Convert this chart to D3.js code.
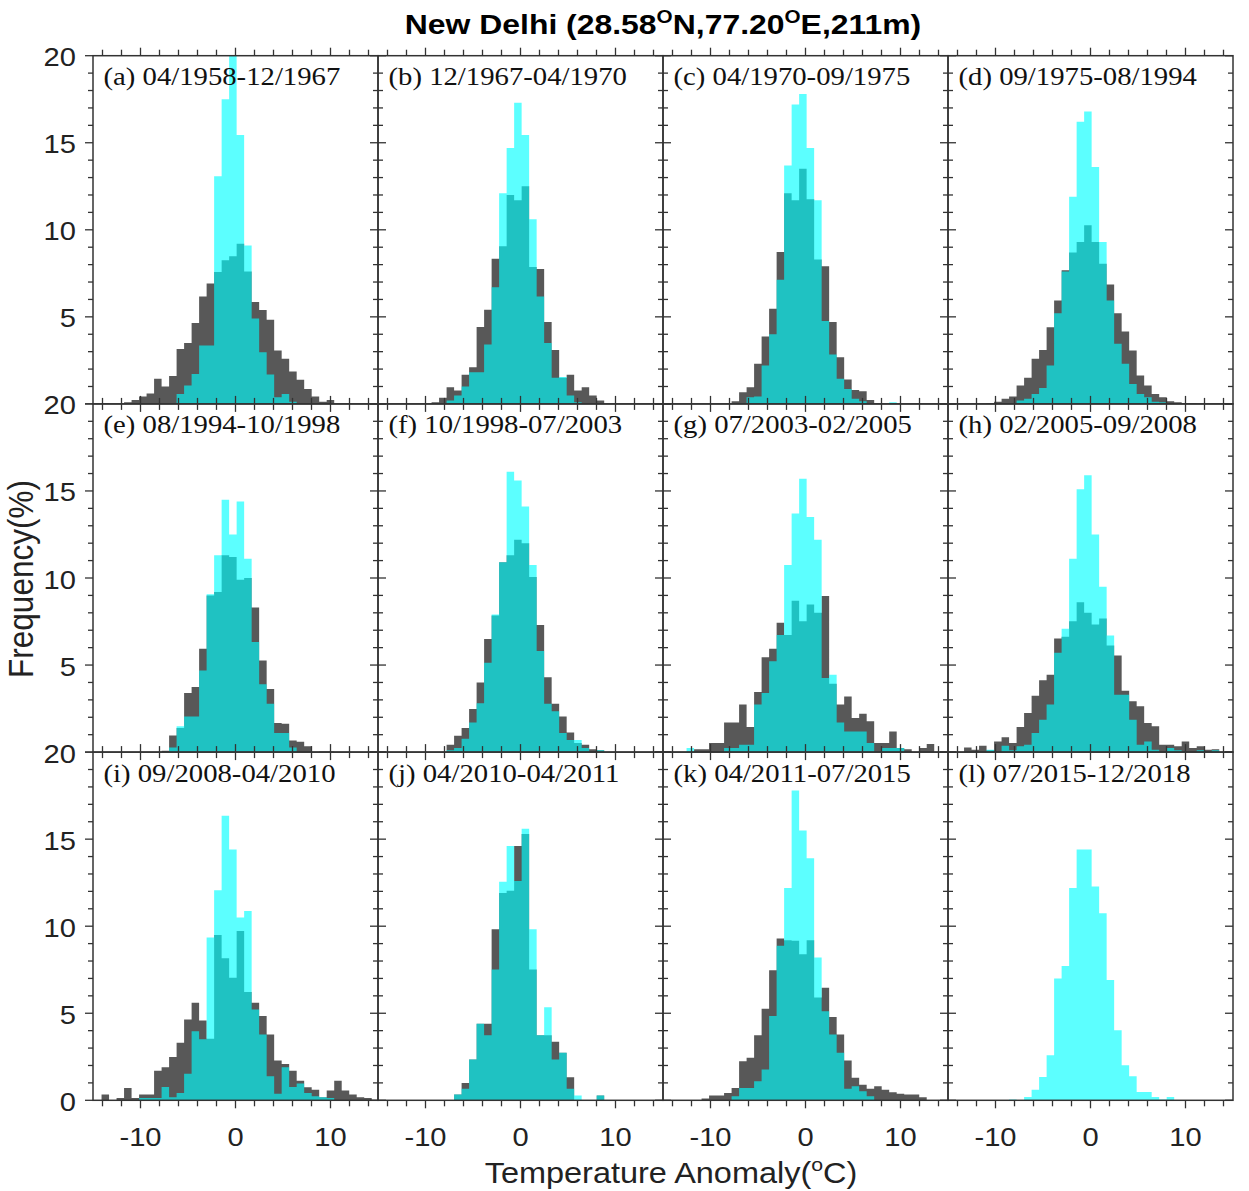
<!DOCTYPE html>
<html><head><meta charset="utf-8">
<script src="https://cdn.jsdelivr.net/npm/d3@7/dist/d3.min.js"></script>
<style>body{margin:0;background:#fff}</style>
</head><body>
<svg id="chart" width="1249" height="1191"></svg>
<script>
// ---------------- DATA ----------------
const titleText = ["New Delhi (28.58", "O", "N,77.20", "O", "E,211m)"];
const xLabelParts = ["Temperature Anomaly(", "o", "C)"];
const yLabelText = "Frequency(%)";
const panelLabels = [
  "(a) 04/1958-12/1967", "(b) 12/1967-04/1970", "(c) 04/1970-09/1975", "(d) 09/1975-08/1994",
  "(e) 08/1994-10/1998", "(f) 10/1998-07/2003", "(g) 07/2003-02/2005", "(h) 02/2005-09/2008",
  "(i) 09/2008-04/2010", "(j) 04/2010-04/2011", "(k) 04/2011-07/2015", "(l) 07/2015-12/2018"
];
// histogram bins shared by all panels (left edge of first bin, bin width, in °C)
const binStart = -14.1;
const binWidth = 0.79;
const xDomain = [-15, 15];
const yDomain = [0, 20];
const xTickLabels = [-10, 0, 10];
const xTicks = [-14, -12, -10, -8, -6, -4, -2, 0, 2, 4, 6, 8, 10, 12, 14];
const yTickLabels = [0, 5, 10, 15, 20];

// frequency (%) per bin: gray = dark series, cyan = light series
const grayA = [0.05,0,0,0.1,0.23,0.42,0.6,1.44,1.0,1.6,3.16,3.5,4.64,6.17,6.92,7.57,8.25,8.48,9.2,7.6,5.85,5.4,4.83,3.07,2.6,1.86,1.38,0.86,0.42,0.13,0.23];
const cyanA = [0,0,0,0,0,0,0,0,0,0,0.57,1.05,1.72,3.35,3.35,13.08,17.5,21.5,15.44,9.1,4.9,2.97,1.69,0.38,0.57,0.13];
const grayB = [0,0,0,0,0,0,0.1,0.35,0.96,0.77,1.67,2.1,4.41,5.41,8.34,9.05,12.0,11.7,12.5,7.86,7.75,4.7,3.1,1.5,1.67,0.77,0.96,0.48,0.19];
const cyanB = [0,0,0,0,0,0,0,0,0.19,0.48,1.0,1.82,1.82,3.41,6.7,12.1,14.7,17.3,15.44,10.6,6.17,3.5,1.5,1.55,0.48,0.1];
const grayC = [0,0,0,0,0,0,0,0,0.15,0.67,0.96,2.3,3.87,5.47,8.72,12.1,11.7,13.5,11.75,8.3,7.9,4.7,2.68,1.4,0.8,0.73,0.23,0.05];
const cyanC = [0,0,0,0,0,0,0,0,0,0.05,0.38,0.42,2.2,4.0,7.13,13.7,17.2,17.8,14.7,11.7,4.76,2.84,1.44,0.86,0.29,0.15,0,0,0,0.1];
const grayD = [0,0,0,0,0.04,0.13,0.29,0.42,1.05,1.5,2.6,3.1,4.4,5.94,7.67,8.7,9.3,10.26,9.3,8.05,6.86,5.2,4.16,3.07,1.63,1.05,0.57,0.38,0.15,0.1,0.04,0.04];
const cyanD = [0,0,0,0,0,0,0,0,0.19,0.29,0.57,0.92,2.2,5.2,7.6,11.9,16.2,16.8,13.6,9.3,5.94,3.45,2.3,1.15,0.57,0.38,0.13,0.1];
const grayE = [0,0,0,0,0,0,0,0,0.08,0.96,1.38,3.4,3.74,5.93,9.0,9.2,11.3,11.2,9.9,10.0,8.3,5.26,3.63,1.67,1.63,0.67,0.6,0.33,0,0.04,0.04];
const cyanE = [0,0,0,0,0,0,0,0,0,0.27,1.48,2.05,2.05,4.68,9.06,11.3,14.5,12.5,14.4,11.1,6.33,3.9,2.78,1.1,1.1,0.27];
const grayF = [0,0,0,0,0,0,0,0,0.42,0.94,1.38,2.48,4.0,6.5,7.85,10.9,11.3,12.2,12.0,10.06,7.3,4.3,2.78,2.05,1.13,0.52,0.42,0.17,0.1];
const cyanF = [0,0,0,0,0,0,0,0,0.1,0.23,0.77,1.7,2.8,5.13,7.9,10.9,16.1,15.6,14.1,10.75,5.8,2.78,2.34,1.1,0.7,0.7,0.23,0,0.1];
const grayG = [0,0,0,0.17,0.17,0.52,0.52,1.7,1.7,2.73,1.44,3.45,5.45,5.93,7.43,6.72,8.7,7.52,8.48,8.0,8.96,3.92,2.73,3.2,1.96,2.2,1.77,0.52,0.52,1.19,0.23,0.17,0,0.23,0.46];
const cyanG = [0,0,0.23,0,0,0,0,0.23,0.23,0.42,0.42,2.73,3.4,5.22,6.72,10.75,13.7,15.7,13.5,12.2,4.26,4.45,1.7,1.19,1.19,1.19,0.52,0,0.23,0.23,0.23];
const grayH = [0,0.27,0.13,0.36,0.1,0.61,0.86,0.52,1.44,2.25,3.24,4.13,4.45,6.53,6.62,7.52,8.6,8.0,7.33,7.68,6.12,5.55,3.53,2.92,2.63,1.67,1.48,0.42,0.42,0.33,0.61,0.23,0.33,0.13,0.17];
const cyanH = [0,0,0,0,0.13,0,0.36,0.1,0.33,0.42,1.1,1.86,2.73,5.7,7.08,11.1,15.1,15.9,12.5,9.5,6.7,3.3,3.3,1.86,0.42,0.61,0.13,0,0.23,0.1,0,0,0.1,0,0.1];
const grayI = [0.33,0,0.13,0.71,0.13,0.33,0.33,1.7,1.9,2.48,3.3,4.64,5.6,4.59,3.53,9.5,8.16,7.04,9.73,6.22,5.6,4.84,3.78,2.28,2.09,1.7,1.13,0.75,0.61,0.17,0.56,1.13,0.56,0.33,0.17,0.13];
const cyanI = [0,0,0,0,0,0.13,0.13,0.13,0.77,0.17,0.42,1.52,3.97,3.5,9.35,12.07,16.35,14.4,10.5,10.88,5.22,3.78,1.38,0.38,1.9,0.77,0.96,0.42,0.23,0.17,0.13];
const grayJ = [0,0,0,0,0,0,0,0,0,0.33,1.0,2.34,4.4,4.4,9.83,11.9,12.03,14.6,15.3,7.52,3.74,3.74,3.36,2.73,1.32,0,0,0,0.27];
const cyanJ = [0,0,0,0,0,0,0,0,0,0.33,0.67,2.34,4.4,3.74,7.52,12.55,14.6,12.6,15.6,9.83,3.74,5.35,2.34,2.73,0.67,0.27,0,0,0.27];
const grayK = [0,0,0,0,0.1,0.27,0.27,0.42,0.71,2.25,2.44,3.74,5.26,7.47,9.3,9.19,9.16,8.39,9.19,5.9,6.47,4.78,3.78,2.28,1.29,0.9,0.67,0.81,0.61,0.46,0.38,0.33,0.33,0.17];
const cyanK = [0,0,0,0,0,0,0,0,0.23,0.71,0.71,1.1,1.77,4.84,8.87,12.2,17.8,15.5,13.9,8.2,5.12,3.78,2.73,0.67,0.81,0.52,0.23];
const grayL = [];
const cyanL = [0,0,0,0,0,0,0,0.04,0,0.19,0.61,1.34,2.59,7.0,7.72,12.19,14.4,14.4,12.28,10.75,6.91,4.03,2.02,1.38,0.48,0.48,0.19,0.04,0.19];

const graySeries = [grayA, grayB, grayC, grayD, grayE, grayF, grayG, grayH, grayI, grayJ, grayK, grayL];
const cyanSeries = [cyanA, cyanB, cyanC, cyanD, cyanE, cyanF, cyanG, cyanH, cyanI, cyanJ, cyanK, cyanL];

// ---------------- LAYOUT ----------------
const plotLeft = 93, plotTop = 55.7, panelW = 285, panelH = 348.2, nCols = 4;
const grayColor = "#585858", cyanColor = "#00ffff", cyanOpacity = 0.64, axisColor = "#333";
const SX = 1.12; // horizontal stretch of the lettering

const svg = d3.select("#chart");
const defs = svg.append("defs");
const barsLayer = svg.append("g");
const axisLayer = svg.append("g");
const textLayer = svg.append("g");

function stretchedText(g, x, y, str, size, family, anchor, sx) {
  return g.append("text")
    .attr("transform", `translate(${x},${y}) scale(${sx},1)`)
    .attr("text-anchor", anchor)
    .attr("font-family", family)
    .attr("font-size", size)
    .text(str);
}

panelLabels.forEach((label, p) => {
  const r = Math.floor(p / nCols), c = p % nCols;
  const x0 = plotLeft + c * panelW, y0 = plotTop + r * panelH;
  const xs = d3.scaleLinear().domain(xDomain).range([x0, x0 + panelW]);
  const ys = d3.scaleLinear().domain(yDomain).range([y0 + panelH, y0]);

  defs.append("clipPath").attr("id", "clip" + p)
    .append("rect").attr("x", x0).attr("y", y0).attr("width", panelW).attr("height", panelH);

  const g = barsLayer.append("g").attr("clip-path", `url(#clip${p})`);
  const area = d3.area().curve(d3.curveStepAfter)
    .x(d => xs(d.x)).y0(ys(0)).y1(d => ys(d.v));
  function toPoints(arr) {
    const pts = arr.map((v, i) => ({ x: binStart + i * binWidth, v }));
    if (arr.length) pts.push({ x: binStart + arr.length * binWidth, v: arr[arr.length - 1] });
    return pts;
  }
  if (graySeries[p].length)
    g.append("path").attr("d", area(toPoints(graySeries[p]))).attr("fill", grayColor);
  if (cyanSeries[p].length)
    g.append("path").attr("d", area(toPoints(cyanSeries[p]))).attr("fill", cyanColor).attr("fill-opacity", cyanOpacity);

  // frame
  axisLayer.append("rect").attr("x", x0).attr("y", y0).attr("width", panelW).attr("height", panelH)
    .attr("fill", "none").attr("stroke", axisColor).attr("stroke-width", 1.5);

  const ticks = axisLayer.append("g").attr("stroke", axisColor).attr("stroke-width", 1.3);
  xTicks.forEach(t => {
    const len = xTickLabels.includes(t) ? 8 : 6;
    const x = xs(t);
    ticks.append("line").attr("x1", x).attr("x2", x).attr("y1", ys(0)).attr("y2", ys(0) + len);
    ticks.append("line").attr("x1", x).attr("x2", x).attr("y1", ys(20)).attr("y2", ys(20) - len);
  });
  d3.range(0, 21).forEach(v => {
    const len = v % 5 === 0 ? 8 : 5;
    const y = ys(v);
    if (c === 0) ticks.append("line").attr("x1", x0 - len).attr("x2", x0).attr("y1", y).attr("y2", y);
    else ticks.append("line").attr("x1", x0).attr("x2", x0 + len).attr("y1", y).attr("y2", y);
    ticks.append("line").attr("x1", x0 + panelW - len).attr("x2", x0 + panelW).attr("y1", y).attr("y2", y);
  });

  // panel label
  stretchedText(textLayer, x0 + 10.5, y0 + 29.5, label, 26, "'Liberation Serif','Times New Roman',serif", "start", 1.105)
    .attr("fill", "#111");

  // y tick labels (first column)
  if (c === 0) {
    yTickLabels.forEach(v => {
      if (v === 0 && r < 2) return;
      stretchedText(textLayer, 76, ys(v) + 10.5, String(v), 26, "'Liberation Sans',Arial,sans-serif", "end", SX)
        .attr("fill", "#222");
    });
  }
  // x tick labels (bottom row)
  if (r === 2) {
    xTickLabels.forEach(t => {
      stretchedText(textLayer, xs(t), 1146, String(t), 26, "'Liberation Sans',Arial,sans-serif", "middle", SX)
        .attr("fill", "#222");
    });
  }
});

// title
const title = textLayer.append("text")
  .attr("transform", `translate(663,34) scale(${SX},1)`)
  .attr("text-anchor", "middle")
  .attr("font-family", "'Liberation Sans',Arial,sans-serif")
  .attr("font-weight", "bold").attr("font-size", 28.5).attr("fill", "#000");
title.append("tspan").text(titleText[0]);
title.append("tspan").attr("font-size", 18.5).attr("dy", -11).text(titleText[1]);
title.append("tspan").attr("font-size", 28.5).attr("dy", 11).text(titleText[2]);
title.append("tspan").attr("font-size", 18.5).attr("dy", -11).text(titleText[3]);
title.append("tspan").attr("font-size", 28.5).attr("dy", 11).text(titleText[4]);

// x axis label
const xl = textLayer.append("text")
  .attr("transform", `translate(671,1183) scale(${SX},1)`)
  .attr("text-anchor", "middle")
  .attr("font-family", "'Liberation Sans',Arial,sans-serif")
  .attr("font-size", 29).attr("fill", "#222");
xl.append("tspan").text(xLabelParts[0]);
xl.append("tspan").attr("font-size", 19).attr("dy", -12).text(xLabelParts[1]);
xl.append("tspan").attr("font-size", 29).attr("dy", 12).text(xLabelParts[2]);

// y axis label
textLayer.append("text")
  .attr("transform", `translate(33,579) rotate(-90) scale(1,${SX})`)
  .attr("text-anchor", "middle")
  .attr("font-family", "'Liberation Sans',Arial,sans-serif")
  .attr("font-size", 31.5).attr("fill", "#222")
  .text(yLabelText);
</script>
</body></html>
